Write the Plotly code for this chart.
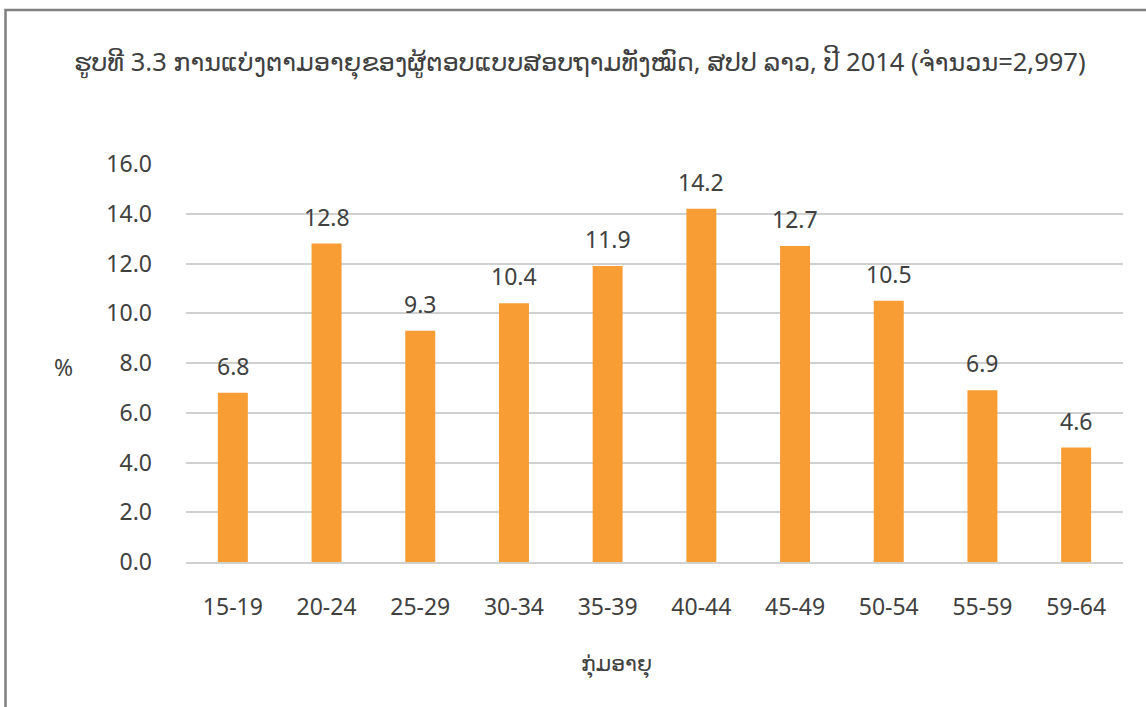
import plotly.graph_objects as go

categories = ["15-19", "20-24", "25-29", "30-34", "35-39", "40-44", "45-49", "50-54", "55-59", "59-64"]
values = [6.8, 12.8, 9.3, 10.4, 11.9, 14.2, 12.7, 10.5, 6.9, 4.6]
y_ticks = [0, 2, 4, 6, 8, 10, 12, 14, 16]

title_text = "ຮູບທີ 3.3 ການແບ່ງຕາມອາຍຸຂອງຜູ້ຕອບແບບສອບຖາມທັງໝົດ, ສປປ ລາວ, ປີ 2014 (ຈຳນວນ=2,997)"
x_title = "ກຸ່ມອາຍຸ"
y_title = "%"

W, H = 1146, 707
L, R, T, B = 186, 23, 164, 145
pw, ph = W - L - R, H - T - B

def px_x(p):
    return (p - L) / pw

def px_y(p):
    return (H - B - p) / ph

font_main = "Noto Sans, DejaVu Sans, sans-serif"
txt_col = "#404040"

fig = go.Figure()
fig.add_trace(go.Bar(
    x=categories, y=values,
    marker=dict(color="#F79D34", line=dict(width=0)),
    width=0.32,
    hoverinfo="x+y",
))

for c, v in zip(categories, values):
    fig.add_annotation(
        x=c, y=v, xref="x", yref="y",
        text=f"{v:.1f}", showarrow=False,
        yanchor="bottom", yshift=9,
        font=dict(size=23, color=txt_col, family=font_main),
    )

fig.add_annotation(
    x=px_x(580), y=px_y(62), xref="paper", yref="paper",
    text=title_text, showarrow=False,
    xanchor="center", yanchor="middle",
    font=dict(size=25.5, color=txt_col, family=font_main),
)
fig.add_annotation(
    x=px_x(616), y=px_y(663), xref="paper", yref="paper",
    text=x_title, showarrow=False,
    xanchor="center", yanchor="middle",
    font=dict(size=22, color=txt_col, family=font_main),
)
fig.add_annotation(
    x=px_x(63), y=px_y(367), xref="paper", yref="paper",
    text=y_title, showarrow=False,
    xanchor="center", yanchor="middle",
    font=dict(size=23, color=txt_col, family=font_main),
)

# outer border (extends beyond right and bottom edges)
fig.add_shape(
    type="rect", xref="paper", yref="paper",
    x0=px_x(5.5), x1=px_x(1200), y0=px_y(760), y1=px_y(10),
    line=dict(color="#7F7F7F", width=2.5), fillcolor="rgba(0,0,0,0)",
    layer="above",
)

fig.update_layout(
    width=W, height=H,
    margin=dict(l=L, r=R, t=T, b=B, autoexpand=False),
    paper_bgcolor="white", plot_bgcolor="white",
    showlegend=False,
    font=dict(family=font_main, color=txt_col, size=23),
    xaxis=dict(
        type="category", range=[-0.5, len(categories) - 0.5],
        showgrid=False, showline=True, linecolor="#D0D0D0", linewidth=1.5,
        ticks="", tickfont=dict(size=23, color=txt_col),
        ticklabelstandoff=24,
    ),
    yaxis=dict(
        range=[0, 16], tickvals=y_ticks,
        ticktext=[f"{t:.1f}" for t in y_ticks],
        showgrid=True, gridcolor="#D0D0D0", gridwidth=1.5,
        zeroline=False, showline=False, ticks="",
        tickfont=dict(size=23, color=txt_col),
        ticklabelstandoff=33,
    ),
)

fig.write_html(
    "out.html",
    config={"displayModeBar": False},
    post_script="document.body.style.margin='0';document.body.style.overflow='hidden';",
)
